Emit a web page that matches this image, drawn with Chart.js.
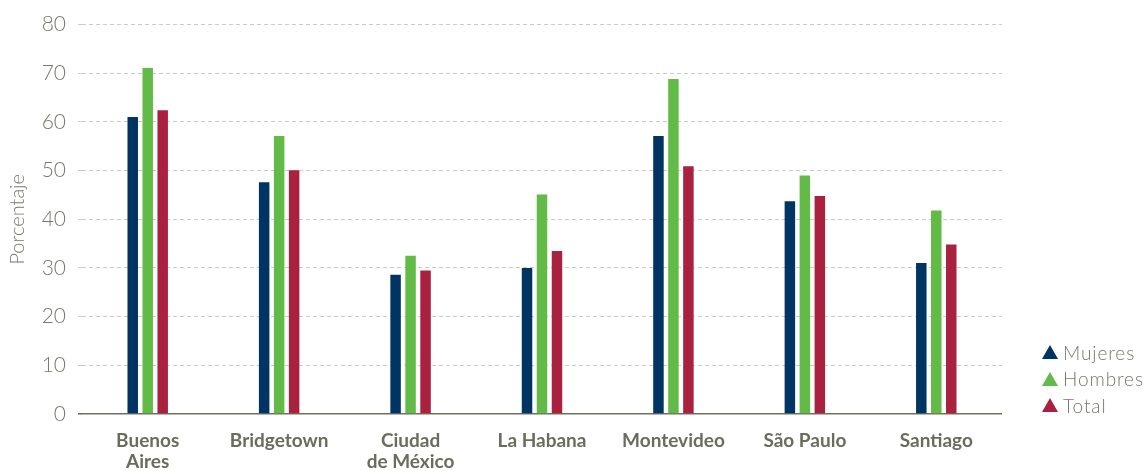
<!DOCTYPE html>
<html lang="es">
<head>
<meta charset="utf-8">
<title>Porcentaje por ciudad</title>
<script src="https://cdn.jsdelivr.net/npm/chart.js@4/dist/chart.umd.min.js"></script>
<style>
  html, body { margin:0; padding:0; background:#fff; }
  .wrap { position:relative; width:1148px; height:471px; overflow:hidden; }
  .legend { position:absolute; left:1042px; top:339px; font-family:Lato, "Open Sans", sans-serif; font-weight:300; font-size:19px; color:#77786b; letter-spacing:0.9px; }
  .legend .item { display:flex; align-items:center; height:26.5px; white-space:nowrap; }
  .legend .tri { width:0; height:0; border-left:8.5px solid transparent; border-right:8.5px solid transparent; border-bottom:14px solid; margin-right:5px; }
</style>
</head>
<body>
<div class="wrap">
  <canvas id="chart" width="1148" height="471"></canvas>
  <div class="legend" id="legend"></div>
</div>
<script>
const cities = [['Buenos', 'Aires'], 'Bridgetown', ['Ciudad', 'de México'], 'La Habana', 'Montevideo', 'São Paulo', 'Santiago'];
const mujeres = [61.0, 47.6, 28.6, 30.0, 57.1, 43.7, 31.0];
const hombres = [71.1, 57.1, 32.5, 45.1, 68.8, 49.0, 41.8];
const total = [62.4, 50.1, 29.5, 33.5, 50.9, 44.8, 34.8];
const yTicks = [0, 10, 20, 30, 40, 50, 60, 70, 80];

const TEXT = '#77786b', TEXT_BOLD = '#6b6c5d', AXIS = '#6f705f', GRID = '#cbcbc3';
const series = [
  {label:'Mujeres', data:mujeres, color:'#003463'},
  {label:'Hombres', data:hombres, color:'#62bb46'},
  {label:'Total', data:total, color:'#a9213f'}
];

new Chart(document.getElementById('chart'), {
  type: 'bar',
  data: {
    labels: cities,
    datasets: series.map(s => ({label:s.label, data:s.data, backgroundColor:s.color, borderWidth:0, categoryPercentage:0.342, barPercentage:0.70}))
  },
  options: {
    responsive: false, animation: false, devicePixelRatio: 1,
    layout: {padding: {top:22, right:146, left:0, bottom:0}},
    plugins: {legend: {display:false}, tooltip: {enabled:false}},
    scales: {
      x: {
        grid: {display:false}, border: {display:false},
        ticks: {color:TEXT_BOLD, padding:8, maxRotation:0, autoSkip:false, font:{family:'Lato', weight:'bold', size:19, lineHeight:1.13}},
        afterFit: s => { s.height = 57; }
      },
      y: {
        min: 0, max: 80,
        afterBuildTicks: s => { s.ticks = yTicks.map(v => ({value:v})); },
        border: {display:false, dash: c => c.tick && c.tick.value === 0 ? [] : [4, 3]},
        grid: {
          color: c => c.tick.value === 0 ? AXIS : GRID,
          lineWidth: c => c.tick.value === 0 ? 1.6 : 1,
          tickLength: 4,
          tickColor: c => c.tick.value === 0 ? AXIS : GRID,
          tickWidth: c => c.tick.value === 0 ? 1.6 : 1,
          tickBorderDash: c => c.tick.value === 0 ? [] : [4, 3]
        },
        ticks: {color:TEXT, padding:12, font:{family:'Lato', weight:300, size:21}},
        title: {display:true, text:'Porcentaje', color:TEXT, padding:{top:6, bottom:0}, font:{family:'Lato', weight:300, size:20}},
        afterFit: s => { s.width = 82; }
      }
    }
  }
});

document.getElementById('legend').innerHTML = series.map(s =>
  `<div class="item"><span class="tri" style="border-bottom-color:${s.color}"></span>${s.label}</div>`).join('');
</script>
</body>
</html>
